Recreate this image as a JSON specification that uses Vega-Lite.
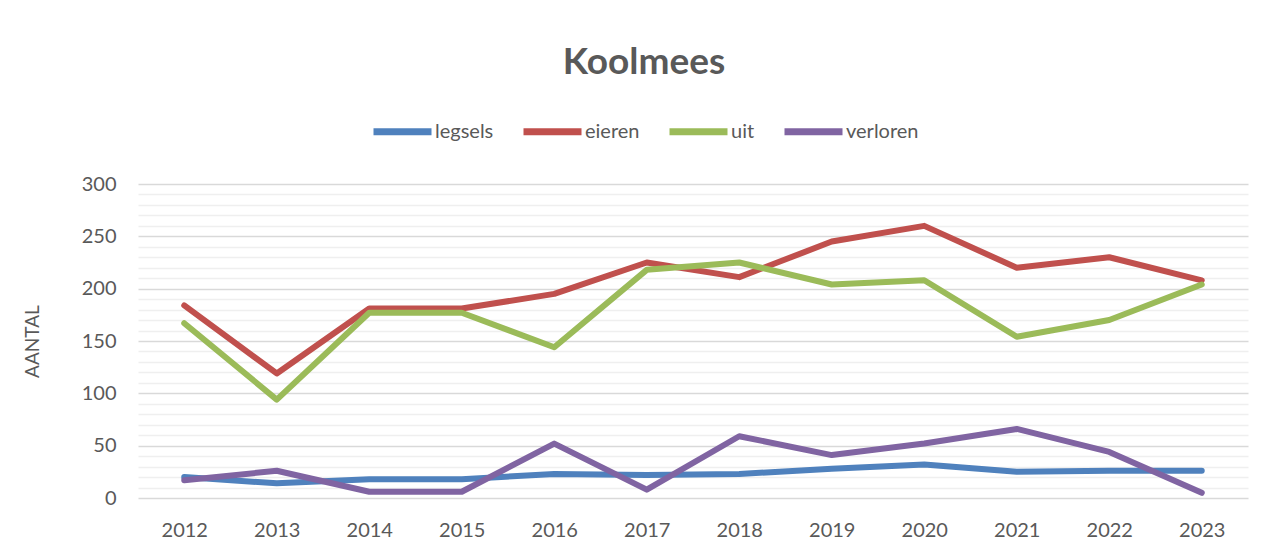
{
  "$schema": "https://vega.github.io/schema/vega-lite/v6.json",
  "autosize": "none",
  "width": 1110,
  "height": 314,
  "padding": {"left": 138, "top": 184, "right": 20, "bottom": 52},
  "background": "white",
  "title": {
    "text": "Koolmees",
    "font": "Lato",
    "fontSize": 37,
    "fontWeight": "bold",
    "color": "#595959",
    "anchor": "middle",
    "frame": "group",
    "baseline": "alphabetic",
    "offset": -12,
    "dx": -49
  },
  "data": {
    "values": [
      {"jaar": "2012", "reeks": "legsels", "aantal": 20},
      {"jaar": "2013", "reeks": "legsels", "aantal": 14},
      {"jaar": "2014", "reeks": "legsels", "aantal": 18},
      {"jaar": "2015", "reeks": "legsels", "aantal": 18},
      {"jaar": "2016", "reeks": "legsels", "aantal": 23},
      {"jaar": "2017", "reeks": "legsels", "aantal": 22},
      {"jaar": "2018", "reeks": "legsels", "aantal": 23},
      {"jaar": "2019", "reeks": "legsels", "aantal": 28},
      {"jaar": "2020", "reeks": "legsels", "aantal": 32},
      {"jaar": "2021", "reeks": "legsels", "aantal": 25},
      {"jaar": "2022", "reeks": "legsels", "aantal": 26},
      {"jaar": "2023", "reeks": "legsels", "aantal": 26},
      {"jaar": "2012", "reeks": "eieren", "aantal": 184},
      {"jaar": "2013", "reeks": "eieren", "aantal": 119},
      {"jaar": "2014", "reeks": "eieren", "aantal": 181},
      {"jaar": "2015", "reeks": "eieren", "aantal": 181},
      {"jaar": "2016", "reeks": "eieren", "aantal": 195},
      {"jaar": "2017", "reeks": "eieren", "aantal": 225},
      {"jaar": "2018", "reeks": "eieren", "aantal": 211},
      {"jaar": "2019", "reeks": "eieren", "aantal": 245},
      {"jaar": "2020", "reeks": "eieren", "aantal": 260},
      {"jaar": "2021", "reeks": "eieren", "aantal": 220},
      {"jaar": "2022", "reeks": "eieren", "aantal": 230},
      {"jaar": "2023", "reeks": "eieren", "aantal": 208},
      {"jaar": "2012", "reeks": "uit", "aantal": 167},
      {"jaar": "2013", "reeks": "uit", "aantal": 94},
      {"jaar": "2014", "reeks": "uit", "aantal": 177},
      {"jaar": "2015", "reeks": "uit", "aantal": 177},
      {"jaar": "2016", "reeks": "uit", "aantal": 144},
      {"jaar": "2017", "reeks": "uit", "aantal": 218},
      {"jaar": "2018", "reeks": "uit", "aantal": 225},
      {"jaar": "2019", "reeks": "uit", "aantal": 204},
      {"jaar": "2020", "reeks": "uit", "aantal": 208},
      {"jaar": "2021", "reeks": "uit", "aantal": 154},
      {"jaar": "2022", "reeks": "uit", "aantal": 170},
      {"jaar": "2023", "reeks": "uit", "aantal": 204},
      {"jaar": "2012", "reeks": "verloren", "aantal": 17},
      {"jaar": "2013", "reeks": "verloren", "aantal": 26},
      {"jaar": "2014", "reeks": "verloren", "aantal": 6},
      {"jaar": "2015", "reeks": "verloren", "aantal": 6},
      {"jaar": "2016", "reeks": "verloren", "aantal": 52},
      {"jaar": "2017", "reeks": "verloren", "aantal": 8},
      {"jaar": "2018", "reeks": "verloren", "aantal": 59},
      {"jaar": "2019", "reeks": "verloren", "aantal": 41},
      {"jaar": "2020", "reeks": "verloren", "aantal": 52},
      {"jaar": "2021", "reeks": "verloren", "aantal": 66},
      {"jaar": "2022", "reeks": "verloren", "aantal": 44},
      {"jaar": "2023", "reeks": "verloren", "aantal": 5}
    ]
  },
  "mark": {"type": "line", "strokeWidth": 6, "strokeCap": "round", "strokeJoin": "round"},
  "encoding": {
    "x": {
      "field": "jaar",
      "type": "ordinal",
      "scale": {"type": "point", "padding": 0.5},
      "axis": {
        "title": null,
        "labelAngle": 0,
        "domain": false,
        "ticks": false,
        "grid": false,
        "labelPadding": 22,
        "labelFont": "Lato",
        "labelFontSize": 20,
        "labelColor": "#595959"
      }
    },
    "y": {
      "field": "aantal",
      "type": "quantitative",
      "scale": {"domain": [0, 300], "nice": false, "zero": true},
      "axis": {
        "title": "AANTAL",
        "titleFont": "Lato",
        "titleFontSize": 19,
        "titleFontWeight": "normal",
        "titleColor": "#595959",
        "titleX": -106,
        "titleY": 157,
        "titleAngle": -90,
        "titleAlign": "center",
        "titleBaseline": "middle",
        "values": [0, 10, 20, 30, 40, 50, 60, 70, 80, 90, 100, 110, 120, 130, 140, 150, 160, 170, 180, 190, 200, 210, 220, 230, 240, 250, 260, 270, 280, 290, 300],
        "labelExpr": "datum.value % 50 === 0 ? datum.label : ''",
        "domain": false,
        "ticks": false,
        "grid": true,
        "gridColor": {"condition": {"test": "datum.value % 50 === 0", "value": "#D9D9D9"}, "value": "#EFEFEF"},
        "gridWidth": {"condition": {"test": "datum.value % 50 === 0", "value": 1.6}, "value": 1.3},
        "labelPadding": 22,
        "labelFont": "Lato",
        "labelFontSize": 20,
        "labelColor": "#595959"
      }
    },
    "color": {
      "field": "reeks",
      "type": "nominal",
      "scale": {
        "domain": ["legsels", "eieren", "uit", "verloren"],
        "range": ["#4F81BD", "#C0504D", "#9BBB59", "#8064A2"]
      },
      "legend": {
        "title": null,
        "orient": "none",
        "direction": "horizontal",
        "legendX": 232,
        "legendY": -85,
        "symbolType": "stroke",
        "symbolSize": 3364,
        "symbolStrokeWidth": 7,
        "labelFont": "Lato",
        "labelFontSize": 20,
        "labelColor": "#595959",
        "labelOffset": 0,
        "columnPadding": 15
      }
    }
  },
  "config": {
    "view": {"stroke": null},
    "font": "Lato"
  }
}
